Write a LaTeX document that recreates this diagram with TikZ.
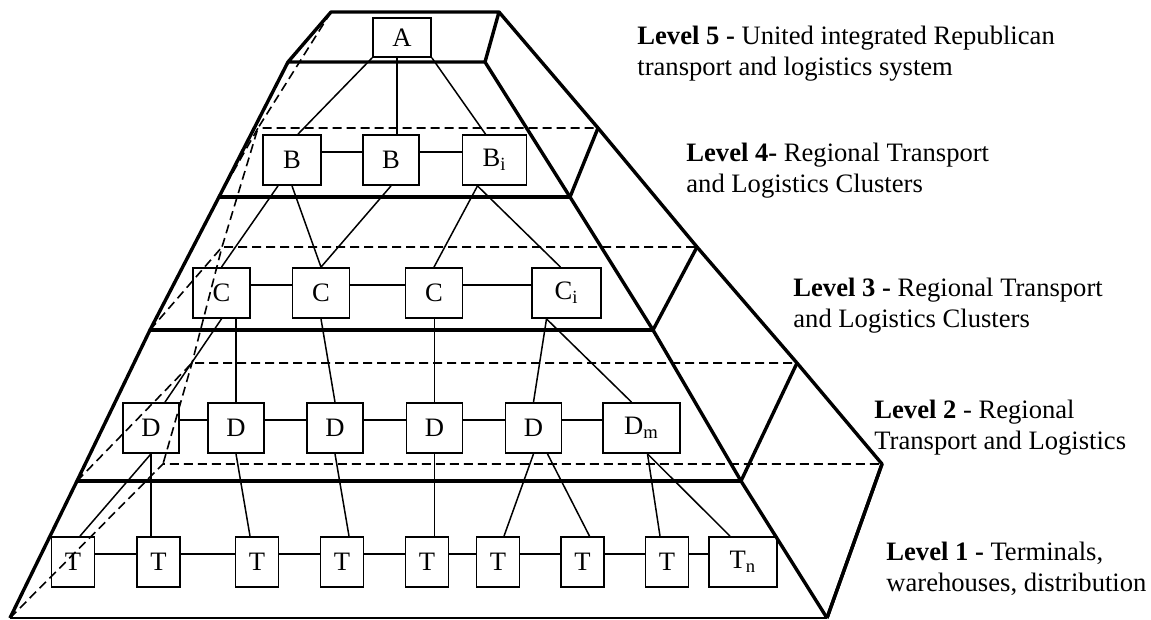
\documentclass[tikz,border=0pt]{standalone}
\usepackage{fontspec}
\setmainfont{Liberation Serif}
\tikzset{
  lvlbox/.style={draw,line width=.9pt,inner sep=0pt,minimum height=25pt},
  link/.style={line width=.75pt},
  thickedge/.style={line width=1.7pt,line join=round},
  hidden/.style={line width=.8pt,dash pattern=on 4.5pt off 2.5pt},
  lvltext/.style={anchor=north west,align=left,inner sep=0pt}
}

\begin{document}
\begin{tikzpicture}[x=.5pt,y=-.5pt,font=\fontsize{13.3}{15.2}\selectfont]
\useasboundingbox (0,0) rectangle (1151,620);
% Pyramid: top face and outer edges
\draw[thickedge] (288,62) -- (331,12) -- (499,12) -- (485,62) -- cycle;
\draw[thickedge] (499,12) -- (598,128) -- (697,247) -- (797,363) -- (882,464) -- (827,618);
\draw[thickedge] (288,62) -- (219,197) -- (150,330) -- (77,481) -- (10,618);
\draw[thickedge] (485,62) -- (570,197) -- (653,330) -- (741,481) -- (827,618);
\draw[link] (10,618) -- (827,618);
\draw[hidden] (331,12) -- (258,128) -- (222,247) -- (192,363) -- (163,464);
% Slices: hidden back edge, side face, front edge
\foreach \yb/\xb/\xo/\yf/\xl/\xr in {128/258/598/197/219/570,247/222/697/330/150/653,
                                      363/192/797/481/77/741,464/163/882/618/10/827}{
  \draw[hidden] (\xl,\yf) -- (\xb,\yb) -- (\xo,\yb);
  \draw[thickedge] (\xo,\yb) -- (\xr,\yf);
}
\foreach \yf/\xl/\xr in {197/219/570,330/150/653,481/77/741}
  \draw[thickedge] (\xl,\yf) -- (\xr,\yf);

% Level 5
\node[lvlbox,minimum width=29pt,minimum height=19.5pt] (A) at (402,37.5) {A};
% Level 4
\node[lvlbox,minimum width=29pt] (B1) at (292,160) {B};
\node[lvlbox,minimum width=28pt] (B2) at (391,160) {B};
\node[lvlbox,minimum width=32pt] (Bi) at (494.5,160) {B\textsubscript{i}};
% Level 3
\foreach \n/\x in {C1/221.5,C2/321,C3/434}
  \node[lvlbox,minimum width=28.5pt] (\n) at (\x,293) {C};
\node[lvlbox,minimum width=34.5pt] (Ci) at (566.5,293) {C\textsubscript{i}};
% Level 2
\foreach \n/\x in {D1/151,D2/236,D3/335,D4/434.5,D5/533.5}
  \node[lvlbox,minimum width=28pt] (\n) at (\x,428) {D};
\node[lvlbox,minimum width=38.5pt] (Dm) at (641.5,428) {D\textsubscript{m}};
% Level 1
\foreach \n/\x in {T1/73,T2/158.5,T3/257,T4/342,T5/427,T6/498,T7/582.5,T8/667}
  \node[lvlbox,minimum width=21.5pt] (\n) at (\x,562) {T};
\node[lvlbox,minimum width=34pt] (Tn) at (743,562) {T\textsubscript{n}};

% Links inside a level
\foreach \a/\b in {B1/B2,B2/Bi,C1/C2,C2/C3,C3/Ci,D1/D2,D2/D3,D3/D4,D4/D5,D5/Dm,
                   T1/T2,T2/T3,T3/T4,T4/T5,T5/T6,T6/T7,T7/T8,T8/Tn}
  \draw[link] ([yshift=4pt]\a.east) -- ([yshift=4pt]\b.west);

% Links between levels
\draw[link] (A.south west) -- ([xshift=3pt]B1.north);
\draw[link] ([xshift=3pt]B2.north) -- ([xshift=3pt]B2.north |- A.south);
\draw[link] (A.south east) -- ([xshift=-4.5pt]Bi.north);
\draw[link] ([xshift=-7pt]B1.south) -- (C1.north);
\draw[link] (B1.south) -- (C2.north) -- (B2.south);
\draw[link] ([xshift=-8.5pt]Bi.south) -- (C3.north);
\draw[link] ([xshift=-8.5pt]Bi.south) -- ([xshift=-3pt]Ci.north);
\draw[link] (C1.south) -- ([xshift=7pt]D1.north);
\draw[link] (D2.north) -- (D2.north |- C1.south);
\draw[link] (C2.south) -- (D3.north);
\draw[link] (D4.north) -- (D4.north |- C3.south);
\draw[link] ([xshift=-10pt]Ci.south) -- (D5.north);
\draw[link] ([xshift=-10pt]Ci.south) -- ([xshift=-5pt]Dm.north);
\draw[link] (D1.south) -- ([xshift=3.5pt]T1.north);
\draw[link] (D1.south) -- (D1.south |- T2.north);
\draw[link] (D2.south) -- ([xshift=-3.5pt]T3.north);
\draw[link] (D3.south) -- ([xshift=3.5pt]T4.north);
\draw[link] (D4.south) -- (D4.south |- T5.north);
\draw[link] (D5.south) -- ([xshift=3pt]T6.north);
\draw[link] ([xshift=7pt]D5.south) -- ([xshift=3.5pt]T7.north);
\draw[link] ([xshift=3pt]Dm.south) -- ([xshift=-3.5pt]T8.north);
\draw[link] ([xshift=3pt]Dm.south) -- ([xshift=-6.5pt]Tn.north);

% Level captions
\node[lvltext] (lvl5) at (637,26) {\textbf{Level 5 -} United integrated Republican\\transport and logistics system};
\node[lvltext] (lvl4) at (686,143) {\textbf{Level 4-} Regional Transport\\and Logistics Clusters};
\node[lvltext] (lvl3) at (793,278) {\textbf{Level 3 -} Regional Transport\\and Logistics Clusters};
\node[lvltext] (lvl2) at (874,400) {\textbf{Level 2} - Regional\\Transport and Logistics};
\node[lvltext] (lvl1) at (886,542) {\textbf{Level 1 -} Terminals,\\warehouses, distribution};
\end{tikzpicture}
\end{document}
